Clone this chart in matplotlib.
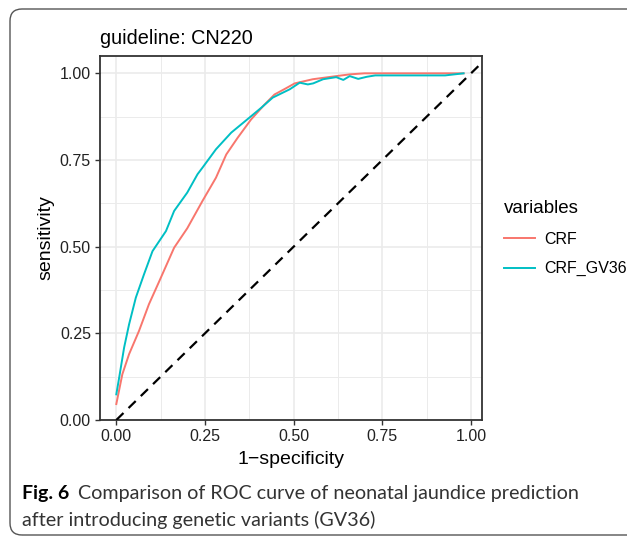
import numpy as np
import matplotlib.pyplot as plt
import matplotlib.patches as mpatches
import matplotlib.transforms as mtransforms

plt.rcParams['font.family'] = ['Liberation Sans', 'DejaVu Sans']

# ROC points
crf_fpr = [0, 0.017, 0.036, 0.064, 0.092, 0.121, 0.163, 0.20, 0.243, 0.281, 0.31,
           0.342, 0.38, 0.418, 0.446, 0.475, 0.503, 0.554, 0.62, 0.658, 0.70, 0.80,
           0.90, 0.979]
crf_tpr = [0.046, 0.132, 0.19, 0.257, 0.334, 0.40, 0.497, 0.553, 0.632, 0.699, 0.766,
           0.814, 0.867, 0.91, 0.939, 0.955, 0.971, 0.983, 0.992, 0.997, 1.0, 1.0,
           1.0, 1.0]

gv_fpr = [0, 0.008, 0.022, 0.036, 0.055, 0.078, 0.102, 0.14, 0.163, 0.20, 0.229,
          0.243, 0.281, 0.324, 0.375, 0.409, 0.441, 0.489, 0.517, 0.54, 0.555, 0.583,
          0.62, 0.64, 0.658, 0.682, 0.706, 0.73, 0.80, 0.927, 0.979]
gv_tpr = [0.074, 0.122, 0.209, 0.276, 0.353, 0.42, 0.487, 0.545, 0.603, 0.656, 0.709,
          0.728, 0.781, 0.829, 0.872, 0.901, 0.93, 0.954, 0.973, 0.968, 0.971, 0.983,
          0.989, 0.981, 0.992, 0.984, 0.99, 0.994, 0.994, 0.994, 1.0]

series = ["CRF", "CRF_GV36"]
colors = ["#F8766D", "#00BFC4"]
ticks = [0.0, 0.25, 0.5, 0.75, 1.0]
tick_labels = ["0.00", "0.25", "0.50", "0.75", "1.00"]

W, H = 627, 538
fig = plt.figure(figsize=(W / 100, H / 100), dpi=100)
ax = fig.add_axes([100 / W, 1 - 420 / H, 382 / W, 364 / H])

ax.set_xlim(-0.046, 1.031)
ax.set_ylim(0, 1.05)

# grid like theme_bw
for v in [0.125, 0.375, 0.625, 0.875]:
    ax.axvline(v, color="#EBEBEB", lw=0.7, zorder=0)
    ax.axhline(v, color="#EBEBEB", lw=0.7, zorder=0)
for v in ticks:
    ax.axvline(v, color="#EBEBEB", lw=1.2, zorder=0)
    ax.axhline(v, color="#EBEBEB", lw=1.2, zorder=0)

ax.plot(crf_fpr, crf_tpr, color=colors[0], lw=1.4, label=series[0], zorder=3)
ax.plot(gv_fpr, gv_tpr, color=colors[1], lw=1.4, label=series[1], zorder=3)
ax.axline((0, 0), slope=1, color="black", lw=1.6, linestyle=(0, (4.5, 3.2)), zorder=4)

ax.set_xticks(ticks)
ax.set_xticklabels(tick_labels)
ax.set_yticks(ticks)
ax.set_yticklabels(tick_labels)
ax.tick_params(length=3.5, width=1, color="#333333", labelsize=11.5,
               labelcolor="#222222", pad=3)
for s in ax.spines.values():
    s.set_color("#333333")
    s.set_linewidth(1.3)

ax.set_xlabel("1\u2212specificity", fontsize=14, labelpad=5)
ax.set_ylabel("sensitivity", fontsize=14, labelpad=4)
ax.set_title("guideline: CN220", fontsize=14.3, loc="left", pad=9)

leg = fig.legend(loc="upper left", bbox_to_anchor=(490 / W, 1 - 186 / H),
                 title="variables", frameon=False, fontsize=11.5,
                 title_fontsize=13.5, handlelength=1.9, handletextpad=0.6,
                 labelspacing=0.9)
leg._legend_box.align = "left"

# caption
cap_font = ['Lato', 'DejaVu Sans']
t1 = fig.text(22 / W, 1 - 493 / H, "Fig. 6", fontsize=14, fontweight="bold",
              family=cap_font, va="center")
fig.canvas.draw()
bb = t1.get_window_extent()
fig.text((bb.x1 + 9) / W, 1 - 493 / H,
         "Comparison of ROC curve of neonatal jaundice prediction",
         fontsize=14.2, family=cap_font, va="center", color="#333333")
fig.text(22 / W, 1 - 520 / H, "after introducing genetic variants (GV36)",
         fontsize=14.2, family=cap_font, va="center", color="#333333")

# rounded frame around the figure and caption
frame = mpatches.FancyBboxPatch((10, H - 535), 660, 526,
                                boxstyle="round,pad=0,rounding_size=12",
                                transform=mtransforms.IdentityTransform(),
                                fill=False, ec="#555555", lw=1)
fig.add_artist(frame)

fig.savefig("out.png", dpi=100)
